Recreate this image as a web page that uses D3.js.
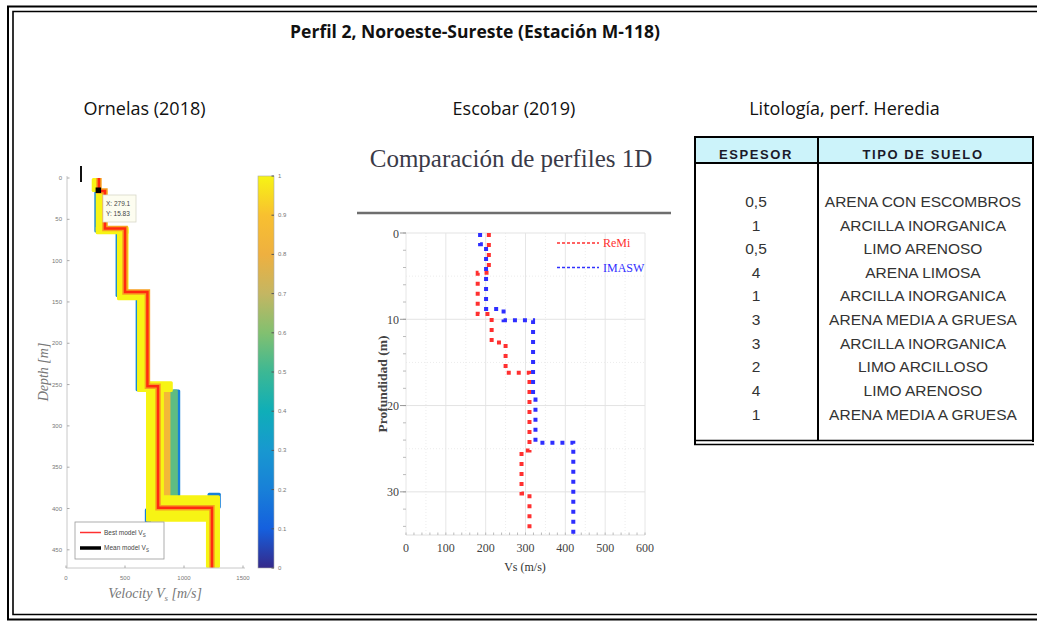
<!DOCTYPE html>
<html><head><meta charset="utf-8">
<script src="https://cdn.jsdelivr.net/npm/d3@7"></script>
<style>
html,body{margin:0;padding:0;background:#fff;}
svg{display:block;}
</style></head>
<body>
<svg id="c" width="1037" height="622"></svg>
<script>
// ---------------- DATA ----------------
const mainTitle = "Perfil 2, Noroeste-Sureste (Estación M-118)";
const panelTitles = ["Ornelas (2018)", "Escobar (2019)", "Litología, perf. Heredia"];

// Ornelas (2018): best model (layer tops/bottoms in m, Vs in m/s)
const bestDepths = [0, 15.8, 61, 138, 252, 399, 472];
const bestVs = [279, 330, 500, 690, 780, 1237];
const meanPoint = [{v: 272, d: 14.5}];
const tooltipLines = ["X: 279.1", "Y: 15.83"];
// ensemble band pieces: top depth, bottom depth, low Vs, high Vs, misfit colour value
const bandTop = [14, 58, 136, 256, 381, 400, 256, 256, 0, 14, 58, 60, 136, 138, 246, 250, 384, 385];
const bandBot = [66, 144, 258, 386, 400, 418, 386, 386, 17, 66, 68, 143, 148, 257, 259, 414, 416, 472];
const bandLo = [240, 420, 590, 900, 1200, 668, 880, 822, 218, 252, 252, 432, 432, 602, 602, 678, 678, 1186];
const bandHi = [300, 470, 640, 968, 1312, 720, 948, 885, 297, 350, 530, 530, 700, 700, 905, 830, 1305, 1305];
const bandC = [0.25, 0.25, 0.25, 0.2, 0.2, 0.2, 0.55, 0.85, 1, 1, 1, 1, 1, 1, 1, 1, 1, 1];
const ornDepthTicks = [0, 50, 100, 150, 200, 250, 300, 350, 400, 450];
const ornVelTicks = [0, 500, 1000, 1500];
const cbTicks = [0, 0.1, 0.2, 0.3, 0.4, 0.5, 0.6, 0.7, 0.8, 0.9, 1];
const parulaStops = ["#35298a", "#1560de", "#1880d8", "#1898d0", "#0faeb8", "#3cb894", "#82c070", "#c4b662", "#eeb040", "#f8c030", "#f7f414"];
const ornLegend = ["Best model V", "Mean model V"];

// Escobar (2019)
const escTitle = "Comparación de perfiles 1D";
const remiTops = [0, 4.6, 9.4, 12.7, 16.2, 25.2, 30.2];
const remiBottom = 34.3;
const remiVs = [208, 180, 215, 250, 310, 290, 310];
const imaswTops = [0, 1.3, 8.8, 10.1, 19.3, 24.3];
const imaswBottom = 35;
const imaswVs = [186, 201, 245, 319, 325, 420];
const escXTicks = [0, 100, 200, 300, 400, 500, 600];
const escYTicks = [0, 10, 20, 30];
const escLegend = ["ReMi", "IMASW"];

// Litología table
const tableHeader = ["ESPESOR", "TIPO DE SUELO"];
const espesor = ["0,5", "1", "0,5", "4", "1", "3", "3", "2", "4", "1"];
const tipoSuelo = ["ARENA CON ESCOMBROS", "ARCILLA INORGANICA", "LIMO ARENOSO", "ARENA LIMOSA",
  "ARCILLA INORGANICA", "ARENA MEDIA A GRUESA", "ARCILLA INORGANICA", "LIMO ARCILLOSO",
  "LIMO ARENOSO", "ARENA MEDIA A GRUESA"];

// ---------------- DRAW ----------------
const svg = d3.select("#c");
const UI = "'Open Sans','Noto Sans',sans-serif";
const SERIF = "'Liberation Serif','DejaVu Serif',serif";
const ARIAL = "'Liberation Sans',Arial,sans-serif";

// outer double frame
const frame = svg.append("g").attr("stroke", "#000").attr("fill", "none");
frame.append("path").attr("d", "M1037,6.5 H8 V619.5 H1037").attr("stroke-width", 2);
frame.append("path").attr("d", "M1037,11.5 H13 V614.5 H1037").attr("stroke-width", 1.6);

// titles
svg.append("text").attr("x", 475).attr("y", 38).attr("text-anchor", "middle")
  .attr("font-family", UI).attr("font-weight", "bold").attr("font-size", 17.5).attr("fill", "#111").text(mainTitle);
const ptX = [144.5, 514, 844.5];
svg.selectAll(".pt").data(panelTitles).join("text").attr("class", "pt")
  .attr("x", (d, i) => ptX[i]).attr("y", 115).attr("text-anchor", "middle")
  .attr("font-family", UI).attr("font-size", 18).attr("fill", "#111").text(d => d);

// ======== Ornelas panel ========
const xO = d3.scaleLinear().domain([0, 1500]).range([66, 243]);
const yO = d3.scaleLinear().domain([0, 472]).range([178, 568]);
const parula = d3.scaleLinear().domain(cbTicks).range(parulaStops).interpolate(d3.interpolateRgb);
const gO = svg.append("g");

// band
const bands = bandTop.map((t, i) => ({t, b: bandBot[i], lo: bandLo[i], hi: bandHi[i], c: bandC[i]}));
gO.selectAll(".band").data(bands).join("rect").attr("class", "band")
  .attr("x", d => xO(d.lo)).attr("y", d => yO(d.t))
  .attr("width", d => xO(d.hi) - xO(d.lo)).attr("height", d => yO(d.b) - yO(d.t))
  .attr("rx", 1.5).attr("fill", d => parula(d.c));

// best model step path
const stepPts = (tops, vs, bottom) => {
  const pts = [];
  vs.forEach((v, i) => {
    const z0 = tops[i], z1 = (i + 1 < tops.length) ? tops[i + 1] : bottom;
    pts.push([v, z0]); pts.push([v, z1]);
  });
  return pts;
};
const bestPts = stepPts(bestDepths.slice(0, -1), bestVs, bestDepths[bestDepths.length - 1]);
const lineO = d3.line().x(d => xO(d[0])).y(d => yO(d[1]));
gO.append("path").attr("d", lineO(bestPts)).attr("fill", "none").attr("stroke", "#f7a020").attr("stroke-width", 5.5);
gO.append("path").attr("d", lineO(bestPts)).attr("fill", "none").attr("stroke", "#ff2a10").attr("stroke-width", 2.5);
// mean model marker
gO.selectAll(".mean").data(meanPoint).join("rect").attr("class", "mean")
  .attr("x", d => xO(d.v) - 2.5).attr("y", d => yO(d.d) - 2.5).attr("width", 5.5).attr("height", 5.5).attr("fill", "#000");
// cursor bar
gO.append("line").attr("x1", 81).attr("x2", 81).attr("y1", 166).attr("y2", 182).attr("stroke", "#111").attr("stroke-width", 2);
// tooltip
gO.append("rect").attr("x", 103).attr("y", 195).attr("width", 33).attr("height", 27)
  .attr("fill", "#fdfdf0").attr("stroke", "#d8d8c8").attr("stroke-width", 0.8);
gO.selectAll(".tt").data(tooltipLines).join("text").attr("class", "tt")
  .attr("x", 106).attr("y", (d, i) => 206 + i * 10).attr("font-family", ARIAL).attr("font-size", 6.5)
  .attr("fill", "#444").text(d => d);

// axes (light)
gO.append("line").attr("x1", 67).attr("x2", 67).attr("y1", 176).attr("y2", 568).attr("stroke", "#c8c8c8");
gO.append("line").attr("x1", 66).attr("x2", 245).attr("y1", 568).attr("y2", 568).attr("stroke", "#c8c8c8");
gO.selectAll(".ytk").data(ornDepthTicks).join("line").attr("class", "ytk")
  .attr("x1", 67).attr("x2", 69.5).attr("y1", d => yO(d)).attr("y2", d => yO(d)).attr("stroke", "#aaa");
gO.selectAll(".ytl").data(ornDepthTicks).join("text").attr("class", "ytl")
  .attr("x", 62).attr("y", d => yO(d) + 2).attr("text-anchor", "end").attr("font-family", ARIAL)
  .attr("font-size", 6).attr("fill", "#777").text(d => d);
gO.selectAll(".xtk").data(ornVelTicks).join("line").attr("class", "xtk")
  .attr("x1", d => xO(d)).attr("x2", d => xO(d)).attr("y1", 568).attr("y2", 565.5).attr("stroke", "#aaa");
gO.selectAll(".xtl").data(ornVelTicks).join("text").attr("class", "xtl")
  .attr("x", d => xO(d)).attr("y", 580).attr("text-anchor", "middle").attr("font-family", ARIAL)
  .attr("font-size", 6).attr("fill", "#777").text(d => d);
// axis labels
gO.append("text").attr("transform", "translate(48,372) rotate(-90)").attr("text-anchor", "middle")
  .attr("font-family", SERIF).attr("font-style", "italic").attr("font-size", 14).attr("fill", "#777")
  .text("Depth [m]");
const xl = gO.append("text").attr("x", 155).attr("y", 598).attr("text-anchor", "middle")
  .attr("font-family", SERIF).attr("font-style", "italic").attr("font-size", 14).attr("fill", "#777");
xl.append("tspan").text("Velocity V");
xl.append("tspan").attr("font-size", 9).attr("dy", 3).text("s");
xl.append("tspan").attr("dy", -3).text(" [m/s]");

// legend
gO.append("rect").attr("x", 75).attr("y", 522).attr("width", 89).attr("height", 37)
  .attr("fill", "#fff").attr("stroke", "#999").attr("stroke-width", 0.8);
gO.append("line").attr("x1", 80).attr("x2", 101).attr("y1", 532.5).attr("y2", 532.5).attr("stroke", "#ff3030").attr("stroke-width", 1.5);
gO.append("line").attr("x1", 80).attr("x2", 101).attr("y1", 548).attr("y2", 548).attr("stroke", "#000").attr("stroke-width", 3.5);
gO.selectAll(".lg").data(ornLegend).join("text").attr("class", "lg")
  .attr("x", 104).attr("y", (d, i) => 534.5 + i * 15.5).attr("font-family", ARIAL).attr("font-size", 6.5)
  .attr("fill", "#444").each(function (d) {
    d3.select(this).append("tspan").text(d);
    d3.select(this).append("tspan").attr("font-size", 4.5).attr("dy", 2).text("S");
  });

// colorbar
const cbY = d3.scaleLinear().domain([0, 1]).range([568, 176]);
const grad = svg.append("defs").append("linearGradient").attr("id", "parula")
  .attr("x1", 0).attr("y1", 1).attr("x2", 0).attr("y2", 0);
grad.selectAll("stop").data(cbTicks).join("stop").attr("offset", d => d).attr("stop-color", d => parula(d));
gO.append("rect").attr("x", 258).attr("y", 176).attr("width", 16).attr("height", 392)
  .attr("fill", "url(#parula)").attr("stroke", "#aaa").attr("stroke-width", 0.6);
gO.selectAll(".cbt").data(cbTicks).join("line").attr("class", "cbt")
  .attr("x1", 271.5).attr("x2", 274).attr("y1", d => cbY(d)).attr("y2", d => cbY(d)).attr("stroke", "#555");
gO.selectAll(".cbl").data(cbTicks).join("text").attr("class", "cbl")
  .attr("x", 278).attr("y", d => cbY(d) + 2).attr("font-family", ARIAL).attr("font-size", 6)
  .attr("fill", "#777").text(d => d);

// ======== Escobar panel ========
const gE = svg.append("g");
gE.append("text").attr("x", 511).attr("y", 167).attr("text-anchor", "middle").attr("font-family", SERIF)
  .attr("font-size", 25).attr("fill", "#3a3a48").text(escTitle);
gE.append("line").attr("x1", 357).attr("x2", 671).attr("y1", 213).attr("y2", 213).attr("stroke", "#6e6e6e").attr("stroke-width", 2.5);

const xE = d3.scaleLinear().domain([0, 600]).range([406, 645]);
const yE = d3.scaleLinear().domain([0, 35]).range([233, 535]);
// grid
const minorX = d3.range(50, 600, 100);
const minorY = d3.range(5, 35, 10);
gE.selectAll(".gxm").data(minorX).join("line").attr("class", "gxm")
  .attr("x1", d => xE(d)).attr("x2", d => xE(d)).attr("y1", yE(0)).attr("y2", yE(35))
  .attr("stroke", "#ececec").attr("stroke-dasharray", "1,2");
gE.selectAll(".gym").data(minorY).join("line").attr("class", "gym")
  .attr("x1", xE(0)).attr("x2", xE(600)).attr("y1", d => yE(d)).attr("y2", d => yE(d))
  .attr("stroke", "#ececec").attr("stroke-dasharray", "1,2");
gE.selectAll(".gx").data(escXTicks).join("line").attr("class", "gx")
  .attr("x1", d => xE(d)).attr("x2", d => xE(d)).attr("y1", yE(0)).attr("y2", yE(35))
  .attr("stroke", "#e6e6e6");
gE.selectAll(".gy").data(escYTicks).join("line").attr("class", "gy")
  .attr("x1", xE(0)).attr("x2", xE(600)).attr("y1", d => yE(d)).attr("y2", d => yE(d))
  .attr("stroke", "#e3e3e3");
// axes with minor ticks
gE.append("line").attr("x1", xE(0)).attr("x2", xE(600)).attr("y1", yE(35)).attr("y2", yE(35)).attr("stroke", "#e0e0e0");
gE.selectAll(".mxt").data(d3.range(0, 601, 20)).join("line").attr("class", "mxt")
  .attr("x1", d => xE(d)).attr("x2", d => xE(d)).attr("y1", yE(35)).attr("y2", yE(35) - 2.5)
  .attr("stroke", "#bbb");
gE.selectAll(".myt").data(d3.range(0, 35, 2)).join("line").attr("class", "myt")
  .attr("x1", xE(0) - 3).attr("x2", xE(0)).attr("y1", d => yE(d)).attr("y2", d => yE(d))
  .attr("stroke", "#bbb");
gE.selectAll(".Myt").data(escYTicks).join("line").attr("class", "Myt")
  .attr("x1", xE(0) - 6).attr("x2", xE(0)).attr("y1", d => yE(d)).attr("y2", d => yE(d))
  .attr("stroke", "#999");
gE.selectAll(".xl").data(escXTicks).join("text").attr("class", "xl")
  .attr("x", d => xE(d)).attr("y", 552).attr("text-anchor", "middle").attr("font-family", SERIF)
  .attr("font-size", 12).attr("fill", "#444").text(d => d);
gE.selectAll(".yl").data(escYTicks).join("text").attr("class", "yl")
  .attr("x", 399).attr("y", d => yE(d) + 4.5).attr("text-anchor", "end").attr("font-family", SERIF)
  .attr("font-size", 12).attr("fill", "#444").text(d => d);
gE.append("text").attr("x", 525).attr("y", 571).attr("text-anchor", "middle").attr("font-family", SERIF)
  .attr("font-size", 12).attr("fill", "#333").text("Vs (m/s)");
gE.append("text").attr("transform", "translate(387,384) rotate(-90)").attr("text-anchor", "middle")
  .attr("font-family", SERIF).attr("font-weight", "bold").attr("font-size", 13.5).attr("fill", "#444").text("Profundidad (m)");

const lineE = d3.line().x(d => xE(d[0])).y(d => yE(d[1]));
gE.append("path").attr("d", lineE(stepPts(remiTops, remiVs, remiBottom))).attr("fill", "none")
  .attr("stroke", "#ff3030").attr("stroke-width", 4).attr("stroke-dasharray", "4,6");
gE.append("path").attr("d", lineE(stepPts(imaswTops, imaswVs, imaswBottom))).attr("fill", "none")
  .attr("stroke", "#2e2eff").attr("stroke-width", 4).attr("stroke-dasharray", "4,6");
// legend
const legCol = ["#ff3030", "#3030ff"];
escLegend.forEach((t, i) => {
  gE.append("line").attr("x1", 557).attr("x2", 599).attr("y1", 243 + i * 24.5).attr("y2", 243 + i * 24.5)
    .attr("stroke", legCol[i]).attr("stroke-width", 1.6).attr("stroke-dasharray", "3,2");
  gE.append("text").attr("x", 603).attr("y", 247 + i * 24.5).attr("font-family", SERIF).attr("font-size", 12)
    .attr("fill", legCol[i]).text(t);
});

// ======== Table ========
const gT = svg.append("g");
const colX = [756, 923];
const rowY = d3.scaleLinear().domain([0, 9]).range([201.5, 414]);
gT.append("rect").attr("x", 694).attr("y", 137).attr("width", 339).attr("height", 26).attr("fill", "#ccf3fa");
gT.selectAll(".th").data(tableHeader).join("text").attr("class", "th")
  .attr("x", (d, i) => colX[i]).attr("y", 159).attr("text-anchor", "middle").attr("font-family", ARIAL)
  .attr("font-weight", "bold").attr("font-size", 13).attr("letter-spacing", 1.6).attr("fill", "#1a1a2a").text(d => d);
gT.selectAll(".c1").data(espesor).join("text").attr("class", "c1")
  .attr("x", colX[0]).attr("y", (d, i) => rowY(i) + 5.5).attr("text-anchor", "middle").attr("font-family", ARIAL)
  .attr("font-size", 15.5).attr("fill", "#333").text(d => d);
gT.selectAll(".c2").data(tipoSuelo).join("text").attr("class", "c2")
  .attr("x", colX[1]).attr("y", (d, i) => rowY(i) + 5.5).attr("text-anchor", "middle").attr("font-family", ARIAL)
  .attr("font-size", 15.5).attr("fill", "#333").text(d => d);
const tl = gT.append("g").attr("stroke", "#000").attr("fill", "none");
tl.append("path").attr("d", "M694,137 H1033 V442").attr("stroke-width", 2);
tl.append("path").attr("d", "M695,136 V445").attr("stroke-width", 2);
tl.append("line").attr("x1", 694).attr("x2", 1033).attr("y1", 163).attr("y2", 163).attr("stroke-width", 2);
tl.append("line").attr("x1", 818).attr("x2", 818).attr("y1", 137).attr("y2", 441).attr("stroke-width", 2);
tl.append("line").attr("x1", 694).attr("x2", 1034).attr("y1", 440.5).attr("y2", 440.5).attr("stroke-width", 1.5);
tl.append("line").attr("x1", 694).attr("x2", 1034).attr("y1", 444.5).attr("y2", 444.5).attr("stroke-width", 1.5);
</script>
</body></html>
